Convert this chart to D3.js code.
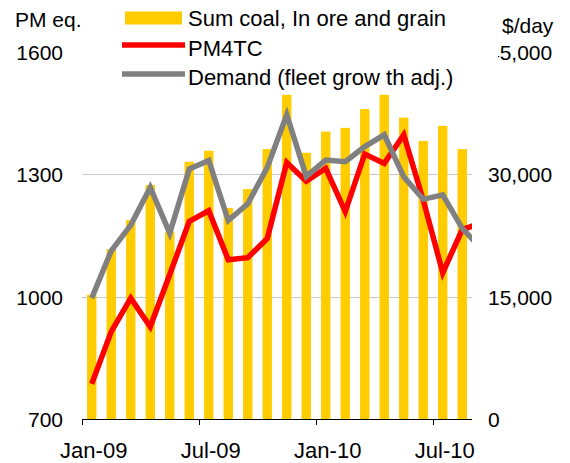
<!DOCTYPE html>
<html>
<head>
<meta charset="utf-8">
<script src="https://cdnjs.cloudflare.com/ajax/libs/d3/7.8.5/d3.min.js"></script>
<style>
body { margin: 0; background: #fff; }
text { font-family: "Liberation Sans", Arial, sans-serif; fill: #000; }
</style>
</head>
<body>
<div id="chart"></div>
<script>
// monthly categories, Jan-09 .. Aug-10 (a Sep-10 point only feeds the clipped line ends)
var months = ["Jan-09","Feb-09","Mar-09","Apr-09","May-09","Jun-09","Jul-09","Aug-09","Sep-09","Oct-09",
              "Nov-09","Dec-09","Jan-10","Feb-10","Mar-10","Apr-10","May-10","Jun-10","Jul-10","Aug-10"];
var tickMonths = ["Jan-09","Jul-09","Jan-10","Jul-10"];

// PM eq. (left axis)
var sumCoalOreGrain = [1004,1116,1187,1273,1159,1330,1357,1217,1263,1361,
                       1494,1352,1404,1413,1459,1494,1438,1381,1418,1361];
var demand = [996,1112,1175,1267,1155,1312,1333,1186,1227,1316,
              1445,1294,1334,1330,1367,1396,1293,1238,1249,1167,1116];
// $/day (right axis)
var pm4tc = [4300,10700,14800,11300,17700,24200,25500,19500,19750,22100,
             31400,29100,30700,25400,32450,31300,34800,26800,17900,23200,24000];

var leftTicks = [700,1000,1300,1600];
var rightTicks = [0,15000,30000,45000];

var legendItems = [
    {name: "Sum coal, In ore and grain", type: "bar", color: "#ffcc00"},
    {name: "PM4TC", type: "line", color: "#ff0000"},
    {name: "Demand (fleet grow th adj.)", type: "line", color: "#808080"}
];

var W = 570, H = 463;
var plot = {left: 82, right: 472, top: 51.5, bottom: 419};

var svg = d3.select("#chart").append("svg")
    .attr("width", W).attr("height", H);

var x = d3.scaleBand().domain(months).range([plot.left, plot.right]).paddingInner(0.52).paddingOuter(0.26);
var xi = d3.scaleLinear().domain([0, months.length]).range([plot.left, plot.right]);
var yL = d3.scaleLinear().domain([700,1600]).range([plot.bottom, plot.top]);
var yR = d3.scaleLinear().domain([0,45000]).range([plot.bottom, plot.top]);

svg.append("clipPath").attr("id","plotClip")
    .append("rect")
    .attr("x", plot.left).attr("y", 0)
    .attr("width", plot.right - plot.left).attr("height", plot.bottom);

// gridlines
svg.append("g").selectAll("line")
    .data(leftTicks.filter(function(d){ return d > 700 && d < 1600; }))
    .enter().append("line")
    .attr("x1", plot.left).attr("x2", plot.right)
    .attr("y1", function(d){ return Math.round(yL(d)) + 0.5; })
    .attr("y2", function(d){ return Math.round(yL(d)) + 0.5; })
    .attr("stroke", "#c8c8c8").attr("stroke-width", 1);

// bars
svg.append("g").selectAll("rect")
    .data(sumCoalOreGrain)
    .enter().append("rect")
    .attr("x", function(d,i){ return x(months[i]); })
    .attr("width", x.bandwidth())
    .attr("y", function(d){ return yL(d); })
    .attr("height", function(d){ return plot.bottom - yL(d); })
    .attr("fill", "#ffcc00");

// lines
var redLine = d3.line()
    .x(function(d,i){ return xi(i + 0.5); })
    .y(function(d){ return yR(d); });
var grayLine = d3.line()
    .x(function(d,i){ return xi(i + 0.5); })
    .y(function(d){ return yL(d); });

var lines = svg.append("g").attr("clip-path", "url(#plotClip)");
lines.append("path").datum(pm4tc)
    .attr("d", redLine)
    .attr("fill", "none").attr("stroke", "#ff0000")
    .attr("stroke-width", 5.5).attr("stroke-linejoin", "miter");
lines.append("path").datum(demand)
    .attr("d", grayLine)
    .attr("fill", "none").attr("stroke", "#808080")
    .attr("stroke-width", 5.5).attr("stroke-linejoin", "miter");

// x axis
var ax = svg.append("g");
ax.append("line")
    .attr("x1", plot.left).attr("x2", plot.right)
    .attr("y1", plot.bottom + 0.5).attr("y2", plot.bottom + 0.5)
    .attr("stroke", "#000");
ax.selectAll(".tick")
    .data(tickMonths)
    .enter().append("line")
    .attr("x1", function(d){ return Math.round(xi(months.indexOf(d))) + 0.5; })
    .attr("x2", function(d){ return Math.round(xi(months.indexOf(d))) + 0.5; })
    .attr("y1", plot.bottom).attr("y2", plot.bottom + 6)
    .attr("stroke", "#000");
ax.selectAll(".xlab")
    .data(tickMonths)
    .enter().append("text")
    .attr("x", function(d){ return x(d) + x.bandwidth() / 2 + 2; })
    .attr("y", 458)
    .attr("text-anchor", "middle")
    .style("font-size", "22px")
    .text(function(d){ return d; });

// left axis labels
svg.append("g").selectAll("text")
    .data(leftTicks)
    .enter().append("text")
    .attr("x", 63)
    .attr("y", function(d){ return yL(d) + 8; })
    .attr("text-anchor", "end")
    .style("font-size", "21px")
    .text(function(d){ return d; });

// right axis labels
svg.append("g").selectAll("text")
    .data(rightTicks)
    .enter().append("text")
    .attr("x", 488)
    .attr("y", function(d){ return yR(d) + 8; })
    .style("font-size", "21px")
    .text(function(d){ return d3.format(",")(d); });

svg.append("text").attr("x", 15).attr("y", 27)
    .style("font-size", "21px").text("PM eq.");
svg.append("text").attr("x", 502).attr("y", 33)
    .style("font-size", "21px").text("$/day");

// legend (white box sits over the right-hand top label, as in the original)
var lg = svg.append("g");
lg.append("rect")
    .attr("x", 108).attr("y", 0).attr("width", 390).attr("height", 91)
    .attr("fill", "#fff");
var rowY = [18, 46, 75];
legendItems.forEach(function(item, i){
    if (item.type === "bar") {
        lg.append("rect")
            .attr("x", 125).attr("y", rowY[i] - 6.5)
            .attr("width", 57).attr("height", 13)
            .attr("fill", item.color);
    } else {
        lg.append("line")
            .attr("x1", 122).attr("x2", 185)
            .attr("y1", rowY[i] - 1).attr("y2", rowY[i] - 1)
            .attr("stroke", item.color).attr("stroke-width", 5.5);
    }
    lg.append("text")
        .attr("x", 188).attr("y", rowY[i] + 7.5 + (i > 0 ? 2 : 0))
        .style("font-size", "22px")
        .text(item.name);
});
</script>
</body>
</html>
